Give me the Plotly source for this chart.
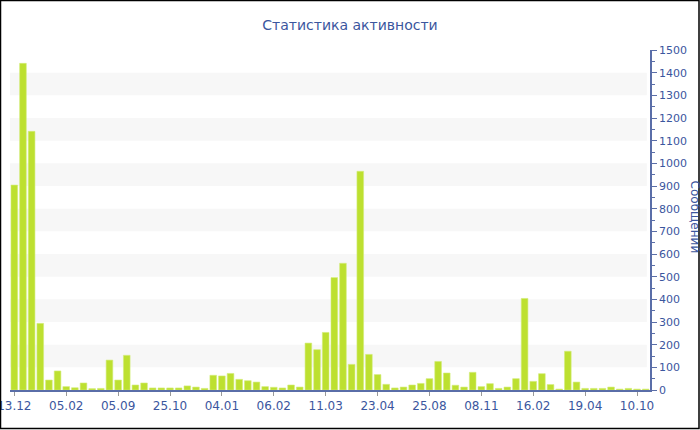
import plotly.graph_objects as go

# activity per period (messages)
values = [
    904, 1441, 1141, 294, 44, 84, 15, 10, 31, 6, 7, 132,
    44, 153, 22, 31, 9, 9, 9, 9, 18, 13, 7, 65,
    62, 73, 47, 41, 35, 15, 12, 9, 22, 13, 207, 178,
    254, 496, 559, 113, 965, 157, 68, 25, 9, 13, 22, 29,
    50, 126, 75, 21, 13, 78, 15, 28, 7, 13, 50, 404,
    38, 72, 24, 4, 171, 35, 7, 7, 7, 13, 4, 7,
    4, 4,
]
tick_labels = ["13.12", "05.02", "05.09", "25.10", "04.01", "06.02", "11.03",
               "23.04", "25.08", "08.11", "16.02", "19.04", "10.10"]
label_step = 6

x = list(range(len(values)))
text_color = "#3b569e"
axis_color = "#5a6ea8"
font = "DejaVu Sans, Verdana, sans-serif"

fig = go.Figure(go.Bar(
    x=x, y=values,
    marker=dict(color="#bde030", line=dict(color="#d4ec7a", width=0.6)),
    hoverinfo="x+y",
))

# light horizontal bands
shapes = []
for lo in range(100, 1500, 200):
    shapes.append(dict(type="rect", xref="paper", yref="y", x0=0, x1=0.995,
                       y0=lo, y1=lo + 100, fillcolor="#f7f7f7",
                       line=dict(width=0), layer="below"))

# outer frame around whole picture
L, R, T, B, W, H = 10, 50, 50, 40, 700, 430
pw, ph = W - L - R, H - T - B
shapes.append(dict(type="rect", xref="paper", yref="paper",
                   x0=(0.5 - L) / pw, x1=(699 - L) / pw,
                   y0=(H - B - 428.5) / ph, y1=(H - B - 0.5) / ph,
                   line=dict(color="black", width=1.5), fillcolor="rgba(0,0,0,0)"))

fig.update_layout(
    width=W, height=H,
    margin=dict(l=L, r=R, t=T, b=B, autoexpand=False),
    paper_bgcolor="white", plot_bgcolor="white",
    font=dict(family=font, color=text_color, size=11),
    title=dict(text="Статистика активности", x=0.5, xanchor="center",
               y=1 - 25 / H, yanchor="middle", font=dict(size=14, color=text_color)),
    bargap=0.23,
    showlegend=False,
    shapes=shapes,
    annotations=[dict(text="Сообщений", xref="paper", yref="paper",
                      x=(695 - L) / pw, y=0.51, xanchor="center", yanchor="middle",
                      textangle=90, showarrow=False,
                      font=dict(size=12, color=text_color))],
)
fig.update_xaxes(
    range=[-0.5, len(values) - 0.5],
    tickmode="array",
    tickvals=[i * label_step for i in range(len(tick_labels))],
    ticktext=tick_labels,
    ticklabeloverflow="allow",
    ticks="outside", ticklen=4, tickcolor="#999999",
    showline=True, linecolor=axis_color, linewidth=2,
    showgrid=False, zeroline=False,
    tickfont=dict(size=12),
)
fig.update_yaxes(
    side="right", range=[0, 1500], dtick=100,
    ticks="outside", ticklen=5, tickcolor=axis_color,
    minor=dict(dtick=50, ticks="outside", ticklen=3, tickcolor=axis_color),
    showline=True, linecolor=axis_color, linewidth=1.5,
    showgrid=False, zeroline=False,
    tickfont=dict(size=11),
)

fig.write_html("out.html", config={"displayModeBar": False},
               post_script="document.body.style.margin='0';")
